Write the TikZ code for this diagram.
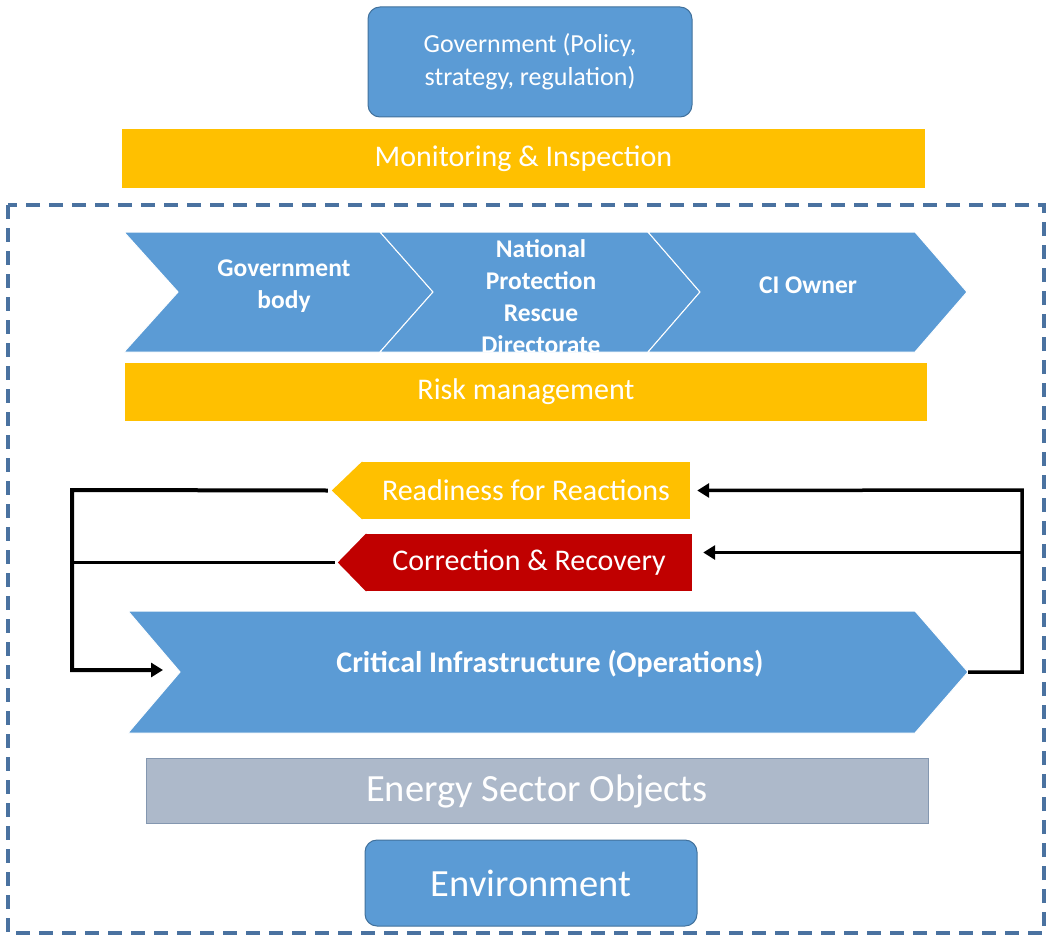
\documentclass[tikz,border=0pt]{standalone}
\usepackage{fontspec}
\setmainfont{Carlito}
\usetikzlibrary{arrows.meta}
\definecolor{ciblue}{HTML}{5B9BD5}
\definecolor{ciedge}{HTML}{41719C}
\definecolor{ciamber}{HTML}{FFC000}
\definecolor{cired}{HTML}{C00000}
\definecolor{cigray}{HTML}{ADB9CA}
\definecolor{cigrayedge}{HTML}{8497B0}
\definecolor{cidash}{HTML}{4A72A0}
\begin{document}
\begin{tikzpicture}[x=1pt,y=-1pt,
    lbl/.style={text=white,align=center,font=\fontsize{30}{34}\selectfont},
    boldlbl/.style={text=white,align=center,font=\fontsize{25.5}{32}\selectfont\bfseries},
    band/.style={fill=ciamber,inner sep=0pt},
    rbox/.style={fill=ciblue,draw=ciedge,line width=1pt,rounded corners=12pt,inner sep=0pt},
    chev/.style={fill=ciblue,draw=white,line width=1pt},
    flow/.style={draw=black,line width=3.5pt},
    flowarr/.style={flow,-{Triangle[length=12pt,width=14pt]}}]
  \useasboundingbox (0,0) rectangle (1054,936);
  % policy level
  \node[rbox,lbl,minimum width=324pt,minimum height=110pt,
    font=\fontsize{26}{33}\selectfont] (gov) at (530,62)
    {Government (Policy,\\ strategy, regulation)};
  \node[band,lbl,minimum width=803pt,minimum height=59pt] (mon) at (523.5,158.5)
    {Monitoring \& Inspection};
  \draw[cidash,line width=3.5pt,dash pattern=on 14pt off 9pt] (8,205) rectangle (1044,933);
  % the three actors
  \path[chev] (124,232) -- (380,232) -- (433,292) -- (380,352) -- (124,352)%
    -- (178,292) -- cycle;
  \path[chev] (380,232) -- (648,232) -- (700,292) -- (648,352) -- (380,352)%
    -- (433,292) -- cycle;
  \path[chev] (648,232) -- (915,232) -- (967,292) -- (915,352) -- (648,352)%
    -- (700,292) -- cycle;
  \node[boldlbl] (govbody) at (284,286) {Government\\body};
  \begin{scope}
    \clip (380,232) rectangle (648,351);
    \node[boldlbl] (npr) at (541,297) {National\\Protection\\Rescue\\Directorate};
  \end{scope}
  \node[boldlbl] (owner) at (808,285) {CI Owner};
  \node[band,lbl,minimum width=802pt,minimum height=58pt] (risk) at (526,392)
    {Risk management};
  % response boxes
  \node[band,lbl,minimum width=328pt,minimum height=57pt] (ready) at (526,490.5)
    {Readiness for Reactions};
  \fill[ciamber] (ready.north west) -- ([xshift=-30pt]ready.west)
    -- (ready.south west) -- ([xshift=1pt]ready.south west)
    -- ([xshift=1pt]ready.north west) -- cycle;
  \node[fill=cired,lbl,inner sep=0pt,minimum width=326pt,minimum height=57pt] (fix)
    at (529,562.5) {Correction \& Recovery};
  \fill[cired] (fix.north west) -- ([xshift=-28pt]fix.west)
    -- (fix.south west) -- ([xshift=1pt]fix.south west)
    -- ([xshift=1pt]fix.north west) -- cycle;
  % operations
  \path[chev] (128,611) -- (915,611) -- (968,672) -- (915,733) -- (128,733)%
    -- (180,672) -- cycle;
  \node[boldlbl,font=\fontsize{30}{34}\selectfont\bfseries] (ci) at (550,664)
    {Critical Infrastructure (Operations)};
  \coordinate (ci in) at (180,670);
  \coordinate (ci out) at (968,672);
  \node[fill=cigray,draw=cigrayedge,line width=1pt,inner sep=0pt,
    minimum width=782pt,minimum height=65pt,text=white,
    font=\fontsize{38.5}{42}\selectfont] (energy) at (537,791) {Energy Sector Objects};
  \node[rbox,lbl,minimum width=332pt,minimum height=86pt,
    font=\fontsize{38.5}{42}\selectfont] (env) at (531,883) {Environment};
  % feedback loop
  \coordinate (rail l) at (72,490);
  \coordinate (rail r) at (1022,490);
  \coordinate (fix in) at ([xshift=11pt,yshift=10pt]fix.east);
  \draw[flowarr,line width=4pt] ([xshift=-34pt]ready.west) -- (rail l) |- ([xshift=-17pt]ci in);
  \draw[flow,line width=2.5pt] ([xshift=-31pt]fix.west) -- (fix.west -| rail l);
  \draw[flowarr] (ci out) -| (rail r) -- ([xshift=7pt]ready.east);
  \draw[flowarr] (fix in -| rail r) -- (fix in);
\end{tikzpicture}
\end{document}
